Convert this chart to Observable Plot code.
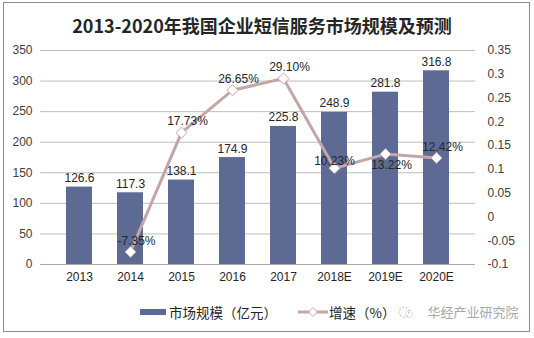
<!DOCTYPE html>
<html>
<head>
<meta charset="utf-8">
<script src="https://cdn.jsdelivr.net/npm/d3@7"></script>
<script src="https://cdn.jsdelivr.net/npm/@observablehq/plot@0.6"></script>
<style>
  body { margin: 0; background: #fff; }
  #wrap { position: relative; width: 534px; height: 338px; overflow: hidden; font-family: "Liberation Sans", Arial, "Noto Sans CJK SC", sans-serif; }
  #chart { position: absolute; left: 0; top: 0; }
  #frame { position: absolute; left: 3px; top: 2px; width: 527px; height: 330px; border: 1px solid #8c8c8c; box-sizing: border-box; pointer-events: none; }
  #title { position: absolute; left: 0; width: 524px; top: 12px; text-align: center; font: bold 18px "Noto Sans CJK SC", sans-serif; color: #262626; line-height: 26px; }
  #legend { position: absolute; top: 303px; left: 140px; font: 13.5px "Noto Sans CJK SC", sans-serif; color: #262626; display: flex; align-items: center; white-space: nowrap; line-height: 18px; }
  .sw { display: inline-block; }
</style>
</head>
<body>
<div id="wrap">
  <div id="chart"></div>
  <div id="title">2013-2020年我国企业短信服务市场规模及预测</div>
  <div id="legend">
    <svg class="sw" width="26" height="8"><rect x="0" y="1" width="26" height="6" fill="#5d6a93"/></svg>
    <span style="margin-left:3px">市场规模（亿元）</span>
    <svg class="sw" width="30" height="12" style="margin-left:21px"><line x1="0" y1="6" x2="30" y2="6" stroke="#c4a6a6" stroke-width="3"/><path d="M15 1.5 L19.5 6 L15 10.5 L10.5 6 Z" fill="#fff" stroke="#c4a6a6" stroke-width="1"/></svg>
    <span style="margin-left:1px">增速（%）</span>
    <svg class="sw" width="18" height="16" style="margin-left:2px"><circle cx="7" cy="8" r="5" fill="none" stroke="#c8c8c8" stroke-width="1.2" stroke-dasharray="2 1.5"/><circle cx="12" cy="10" r="3.5" fill="none" stroke="#c8c8c8" stroke-width="1" stroke-dasharray="1.5 1.2"/></svg>
    <span style="margin-left:12px;color:#a8a8a8;font-size:13px">华经产业研究院</span>
  </div>
  <div id="frame"></div>
</div>
<script>
const years = ["2013","2014","2015","2016","2017","2018E","2019E","2020E"];
const marketSize = [126.6, 117.3, 138.1, 174.9, 225.8, 248.9, 281.8, 316.8];
const growth = [null, -0.0735, 0.1773, 0.2665, 0.2910, 0.1023, 0.1322, 0.1242];
const growthLabels = [null, "-7.35%", "17.73%", "26.65%", "29.10%", "10.23%", "13.22%", "12.42%"];
const leftTicks = [0, 50, 100, 150, 200, 250, 300, 350];
const rightTicks = [-0.1, -0.05, 0, 0.05, 0.1, 0.15, 0.2, 0.25, 0.3, 0.35];
const rightTickLabels = ["-0.1", "-0.05", "0", "0.05", "0.1", "0.15", "0.2", "0.25", "0.3", "0.35"];

// map the right (growth) axis onto the left scale: -0.1 -> 0, 0.35 -> 350
const gMin = -0.1, gMax = 0.35, yMax = 350;
const toLeft = g => (g - gMin) / (gMax - gMin) * yMax;

const bars = years.map((y, i) => ({ year: y, value: marketSize[i] }));
const line = years.map((y, i) => ({ year: y, g: growth[i], label: growthLabels[i] }))
  .filter(d => d.g != null)
  .map(d => ({ ...d, gy: toLeft(d.g) }));

const lineColor = "#c4a6a6";
const aboveLabels = line.filter(d => d.year !== "2018E" && d.year !== "2019E");
const lbl2018 = line.filter(d => d.year === "2018E");
const lbl2019 = line.filter(d => d.year === "2019E");

const textStyle = { fontSize: 12, fill: "#262626", fontFamily: "Liberation Sans, Arial, sans-serif" };

const chart = Plot.plot({
  width: 534,
  height: 338,
  marginTop: 50,
  marginBottom: 74,
  marginLeft: 40,
  marginRight: 59,
  style: { fontFamily: "Liberation Sans, Arial, sans-serif", fontSize: "12px", color: "#404040", background: "transparent" },
  x: { domain: years, padding: 0.5, align: 0.5, label: null },
  y: { domain: [0, yMax], label: null },
  marks: [
    Plot.gridY(leftTicks.filter(t => t > 0), { stroke: "#bdbdbd", strokeOpacity: 1, strokeWidth: 1 }),
    Plot.ruleY([0], { stroke: "#a6a6a6" }),
    Plot.barY(bars, { x: "year", y: "value", fill: "#5d6a93" }),
    Plot.text(bars, { x: "year", y: "value", text: d => d.value.toFixed(1), lineAnchor: "bottom", dy: -5, ...textStyle }),
    Plot.line(line, { x: "year", y: "gy", stroke: lineColor, strokeWidth: 3 }),
    Plot.dot(line, { x: "year", y: "gy", symbol: "diamond2", r: 5, fill: "#fff", stroke: lineColor, strokeWidth: 1 }),
    Plot.text(aboveLabels, { x: "year", y: "gy", text: "label", dx: 6, dy: -11, ...textStyle }),
    Plot.text(lbl2018, { x: "year", y: "gy", text: "label", dx: 0, dy: -7, ...textStyle }),
    Plot.text(lbl2019, { x: "year", y: "gy", text: "label", dx: 6, dy: 11, ...textStyle }),
    Plot.axisX({ tickSize: 0, tickPadding: 8, label: null, fontSize: 12, color: "#262626" }),
    Plot.axisY({ ticks: leftTicks, tickSize: 0, tickPadding: 8, label: null, tickFormat: d => String(d), anchor: "left", fontSize: 12 }),
    Plot.axisY({ anchor: "right", ticks: rightTicks.map(toLeft), tickSize: 0, tickPadding: 12, label: null,
      tickFormat: (d, i) => rightTickLabels[i], fontSize: 12 })
  ]
});
document.getElementById("chart").appendChild(chart);
</script>
</body>
</html>
